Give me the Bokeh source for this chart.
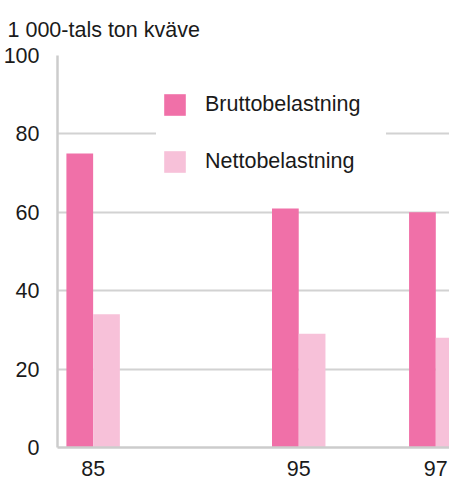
from bokeh.plotting import figure
from bokeh.models import ColumnDataSource, Range1d, FixedTicker, Legend, LegendItem
from bokeh.transform import dodge
from bokeh.embed import file_html
from bokeh.resources import INLINE

# ---- data ----
years = ["85", "", "", "95", "", "97"]
brutto = [75, None, None, 61, None, 60]
netto = [34, None, None, 29, None, 28]
series_names = ["Bruttobelastning", "Nettobelastning"]
colors = ["#F070A8", "#F7C1D9"]
y_ticks = [0, 20, 40, 60, 80, 100]
subtitle = "1 000-tals ton kväve"

FONT = "Liberation Sans"
FS = "21.5px"
TXT = "#1a1a1a"
GRID = "#d2d2d2"

rows = [i for i, v in enumerate(brutto) if v is not None]
src = ColumnDataSource(dict(
    x=rows,
    brutto=[brutto[i] for i in rows],
    netto=[netto[i] for i in rows],
))

p = figure(width=449, height=479, output_backend="svg", toolbar_location=None,
           x_range=Range1d(-0.52, 5.2), y_range=Range1d(0, 100),
           min_border_left=54, min_border_right=0, min_border_top=55,
           min_border_bottom=32)
p.outline_line_color = None
p.background_fill_color = "white"

bw = 0.39
r1 = p.vbar(x=dodge("x", -bw / 2, range=p.x_range), top="brutto", width=bw,
            source=src, fill_color=colors[0], line_color=None)
r2 = p.vbar(x=dodge("x", bw / 2, range=p.x_range), top="netto", width=bw,
            source=src, fill_color=colors[1], line_color=None)

# title / unit
p.title.text = subtitle
p.title.align = "left"
p.title.offset = -50
p.title.text_font = FONT
p.title.text_font_size = FS
p.title.text_font_style = "normal"
p.title.text_color = TXT
p.title.standoff = 27

# axes
p.xgrid.grid_line_color = None
p.ygrid.grid_line_color = GRID
p.ygrid.grid_line_width = 2
p.ygrid.ticker = FixedTicker(ticks=y_ticks)

p.yaxis.ticker = FixedTicker(ticks=y_ticks)
p.xaxis.ticker = FixedTicker(ticks=rows)
p.xaxis.major_label_overrides = {i: years[i] for i in rows}
for ax in (p.xaxis[0], p.yaxis[0]):
    ax.axis_line_color = "#cccccc"
    ax.axis_line_width = 2.5
    ax.major_tick_line_color = None
    ax.minor_tick_line_color = None
    ax.major_label_text_font = FONT
    ax.major_label_text_font_size = FS
    ax.major_label_text_color = TXT
p.yaxis.major_label_standoff = 12
p.xaxis.major_label_standoff = 7

legend = Legend(items=[LegendItem(label=series_names[0], renderers=[r1]),
                       LegendItem(label=series_names[1], renderers=[r2])],
                location=(99, 267), orientation="vertical",
                glyph_width=27, glyph_height=27, spacing=30, padding=5,
                label_standoff=17, label_width=176, label_height=27,
                background_fill_color="white", background_fill_alpha=1,
                border_line_alpha=0, label_text_font=FONT,
                label_text_font_size=FS, label_text_color=TXT, margin=0)
p.add_layout(legend)

open("out.html", "w").write(file_html(p, INLINE))
